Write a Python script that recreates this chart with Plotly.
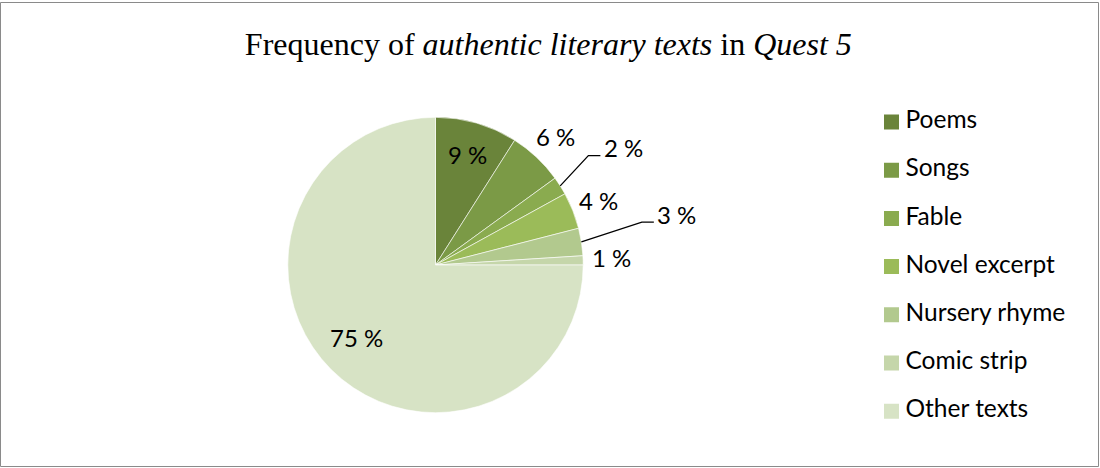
import math
import plotly.graph_objects as go

# ---- data ----
categories = ["Poems", "Songs", "Fable", "Novel excerpt", "Nursery rhyme", "Comic strip", "Other texts"]
values = [9, 6, 2, 4, 3, 1, 75]
label_texts = ["9 %", "6 %", "2 %", "4 %", "3 %", "1 %", "75 %"]

# ---- style ----
colors = ["#6a843a", "#7b9a46", "#8aab4f", "#9bbb59", "#b2c98e", "#c5d6aa", "#d7e3c5"]
label_radius = [0.78, 1.19, 1.50, 1.19, 1.67, 1.19, 0.73]
label_angle_shift = [0.0, 0.0, 0.4, 0.0, -2.9, -0.5, 2.4]
has_leader = [False, False, True, False, True, False, False]
W, H = 1100, 468
CX, CY, R = 435.5, 265.0, 147.7
LABEL_FONT = dict(family="Lato, 'Open Sans', sans-serif", size=24, color="#000000")
LEGEND_FONT = dict(family="Lato, 'Open Sans', sans-serif", size=24.5, color="#000000")


def px(x):
    return x / W


def py(y):
    return (H - y) / H


fig = go.Figure()

fig.add_trace(go.Pie(
    labels=categories,
    values=values,
    sort=False,
    direction="clockwise",
    rotation=0,
    marker=dict(colors=colors, line=dict(color="#ffffff", width=0.6)),
    textinfo="none",
    hoverinfo="label+percent",
    showlegend=False,
    domain=dict(x=[px(CX - R), px(CX + R)], y=[py(CY + R), py(CY - R)]),
))

# ---- slice labels positioned from data angles ----
total = sum(values)
cum = 0.0
annotations = []
shapes = []
for i, v in enumerate(values):
    mid = (cum + v / 2) / total
    cum += v
    th = 2 * math.pi * mid
    thl = th + math.radians(label_angle_shift[i])
    lx = CX + R * label_radius[i] * math.sin(thl)
    ly = CY - R * label_radius[i] * math.cos(thl)
    annotations.append(dict(
        x=px(lx), y=py(ly), xref="paper", yref="paper",
        text=label_texts[i], showarrow=False, font=LABEL_FONT,
        xanchor="center", yanchor="middle",
    ))
    if has_leader[i]:
        ex = CX + R * math.sin(th)
        ey = CY - R * math.cos(th)
        half = 20
        end_x = lx - half - 3
        elbow_x = end_x - 12
        yy = ly + 8
        shapes.append(dict(
            type="path", xref="paper", yref="paper",
            path=f"M {px(ex)},{py(ey)} L {px(elbow_x)},{py(yy)} L {px(end_x)},{py(yy)}",
            line=dict(color="#000000", width=1.3),
        ))

# ---- legend drawn as scatter traces on a category axis ----
fig.add_trace(go.Scatter(
    x=[0] * len(categories),
    y=categories,
    mode="markers",
    marker=dict(symbol="square", size=15, color=colors, line=dict(width=0)),
    hoverinfo="skip",
    showlegend=False,
    xaxis="x",
    yaxis="y",
))
fig.add_trace(go.Scatter(
    x=[14] * len(categories),
    y=categories,
    mode="text",
    text=categories,
    textposition="middle right",
    textfont=LEGEND_FONT,
    hoverinfo="skip",
    showlegend=False,
    xaxis="x",
    yaxis="y",
))

LEG_TOP, LEG_STEP = 122.0, 48.2
n = len(categories)
fig.update_layout(
    xaxis=dict(domain=[px(880), 1.0], range=[-11.5, 208.5], visible=False, fixedrange=True),
    yaxis=dict(domain=[py(LEG_TOP + LEG_STEP * (n - 0.5)), py(LEG_TOP - LEG_STEP / 2)],
               range=[n - 0.5, -0.5], type="category", visible=False, fixedrange=True),
)

# ---- border ----
shapes.append(dict(type="rect", xref="paper", yref="paper",
                   x0=px(0.5), x1=px(1098.5), y0=py(466.5), y1=py(2.5),
                   line=dict(color="#8a8a8a", width=1), fillcolor="rgba(0,0,0,0)"))

fig.update_layout(
    width=W, height=H,
    margin=dict(l=0, r=0, t=0, b=0),
    paper_bgcolor="#ffffff",
    plot_bgcolor="#ffffff",
    title=dict(
        text="Frequency of <i>authentic literary texts</i> in <i>Quest 5</i>",
        x=0.4985, xanchor="center", y=py(44), yanchor="middle",
        font=dict(family="'Liberation Serif', 'Times New Roman', serif", size=32, color="#000000"),
    ),
    annotations=annotations,
    shapes=shapes,
)

fig.write_html("out.html")
